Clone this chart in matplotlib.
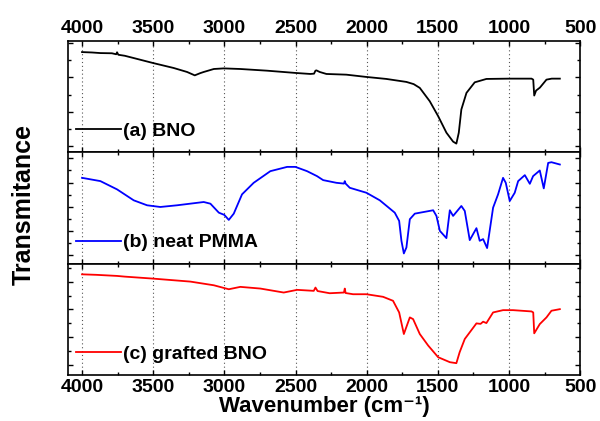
import matplotlib
matplotlib.use('Agg')
import matplotlib.pyplot as plt
from matplotlib.ticker import MultipleLocator

plt.rcParams['font.family'] = ['Liberation Sans', 'DejaVu Sans']
plt.rcParams['font.weight'] = 'bold'

# Spectra (wavenumber in cm-1, transmittance in a.u.)
bno_wn = [4000, 3930, 3871, 3790, 3760, 3754, 3745, 3700, 3637, 3501,
          3356, 3262, 3208, 3170, 3145, 3074, 3004, 2888, 2700, 2498,
          2396, 2370, 2360, 2353, 2330, 2283, 2143, 2002, 1862, 1721,
          1670, 1627, 1557, 1498, 1440, 1393, 1370, 1353, 1335, 1299,
          1241, 1159, 1001, 842, 830, 823, 810, 783, 760, 737, 700, 643]
bno_t = [100.7, 100.3, 99.7, 99.5, 98.5, 100.5, 98, 97, 94.7, 89.7,
         84.7, 80.7, 77.3, 79.5, 80.7, 83.7, 84.3, 83.7, 82, 79.7,
         78.7, 79, 82, 82.3, 80.7, 78.7, 78, 75.7, 73.7, 70.7,
         68.5, 64.7, 51.3, 36.3, 19.7, 10.7, 8.7, 19.7, 43, 59.7,
         70.3, 73.7, 74, 74, 73, 57, 62, 65, 69, 73, 74, 74]

pmma_wn = [4000, 3871, 3754, 3637, 3543, 3450, 3332, 3145, 3098, 3039,
           3000, 2969, 2934, 2876, 2794, 2677, 2559, 2501, 2419, 2349,
           2306, 2213, 2160, 2154, 2148, 2119, 2002, 1908, 1803, 1772,
           1756, 1739, 1721, 1697, 1662, 1533, 1510, 1486, 1440, 1416,
           1393, 1335, 1311, 1276, 1229, 1206, 1182, 1154, 1112, 1077,
           1042, 1023, 995, 960, 936, 889, 854, 831, 784, 756, 725, 702, 643]
pmma_t = [86.3, 83, 74.7, 63.7, 58.7, 57, 58.7, 62, 60.3, 51.3,
          49, 44, 50.3, 69.7, 81.3, 93, 97.3, 97.3, 93, 88,
          84, 81.3, 80.5, 83, 80.5, 76.3, 71.3, 63.7, 51.3, 43,
          23, 10.3, 16.3, 44.7, 50.3, 53.7, 48, 33, 25.7, 53.7,
          48, 58, 53, 23.7, 35.7, 23, 24.7, 15.7, 56.3, 69.7,
          86.3, 81.3, 63, 71.3, 83, 89, 80.3, 88, 93.7, 75.7, 101.3, 102, 99.7]

gbno_wn = [4000, 3900, 3754, 3700, 3501, 3239, 3074, 2969, 2888, 2747,
           2583, 2489, 2372, 2360, 2345, 2260, 2160, 2154, 2148, 2096,
           2002, 1885, 1815, 1772, 1739, 1697, 1674, 1627, 1568, 1498,
           1416, 1370, 1347, 1311, 1229, 1200, 1182, 1159, 1112, 1042,
           972, 842, 830, 823, 784, 737, 702, 643]
gbno_t = [101.3, 100.8, 99.7, 99, 97, 94, 90.3, 86.3, 88.7, 87,
          83, 85.7, 84.7, 88, 84.5, 82.3, 83, 87, 82.5, 81.3,
          81.3, 78.7, 74.7, 63, 41.3, 58, 56.3, 41.3, 29.7, 18,
          13, 12, 23, 36.3, 52, 51.5, 53.7, 52.3, 63, 65.3,
          65.3, 64, 63, 42, 51.3, 58, 64.7, 66.3]

labels = ['(a) BNO', '(b) neat PMMA', '(c) grafted BNO']
colors = ['black', 'blue', 'red']
# y tick spacing differs per panel (major step, offset)
ytick_steps = [(34.5, 6.3), (24.2, 9.0), (28.0, 10.0)]

series = [(bno_wn, bno_t), (pmma_wn, pmma_t), (gbno_wn, gbno_t)]

fig, axes = plt.subplots(3, 1, sharex=True, figsize=(6, 4.21), dpi=100,
                         gridspec_kw={'hspace': 0})
fig.subplots_adjust(left=0.113, right=0.967, top=0.903, bottom=0.109)

for i, ax in enumerate(axes):
    wn, t = series[i]
    ax.plot(wn, t, color=colors[i], lw=1.3, label=labels[i])
    ax.set_xlim(4100, 500)
    ax.set_ylim(0, 112)

    # dotted vertical grid at every 500
    ax.xaxis.set_major_locator(MultipleLocator(500))
    ax.xaxis.set_minor_locator(MultipleLocator(250))
    ax.grid(axis='x', which='major', color='#555555', ls=(0, (1, 2.5)), lw=0.8)

    step, off = ytick_steps[i]
    ax.yaxis.set_major_locator(MultipleLocator(step, offset=off))
    ax.yaxis.set_minor_locator(MultipleLocator(step / 2, offset=off))

    ax.tick_params(which='both', direction='in', top=True, right=True,
                   labelleft=False, width=1.0, labelsize=14, pad=3)
    ax.tick_params(which='major', length=3.5)
    ax.tick_params(which='minor', length=2.2)
    ax.tick_params(axis='x', labeltop=(i == 0), labelbottom=(i == 2))
    for sp in ax.spines.values():
        sp.set_linewidth(1.2)

    ax.legend(loc='center left', bbox_to_anchor=(0.0156, 0.19), frameon=False,
              fontsize=14, handlelength=2.3, handletextpad=0.15,
              borderpad=0, borderaxespad=0)

for lab in axes[0].get_xticklabels() + axes[2].get_xticklabels():
    lab.set_fontweight('bold')

axes[2].set_xlabel('Wavenumber (cm\u207b\u00b9)', fontsize=16,
                   fontweight='bold', labelpad=0)
fig.text(0.04, 0.515, 'Transmitance', rotation=90, fontsize=18,
         fontweight='bold', ha='center', va='center')

fig.savefig('out.png', dpi=100)
